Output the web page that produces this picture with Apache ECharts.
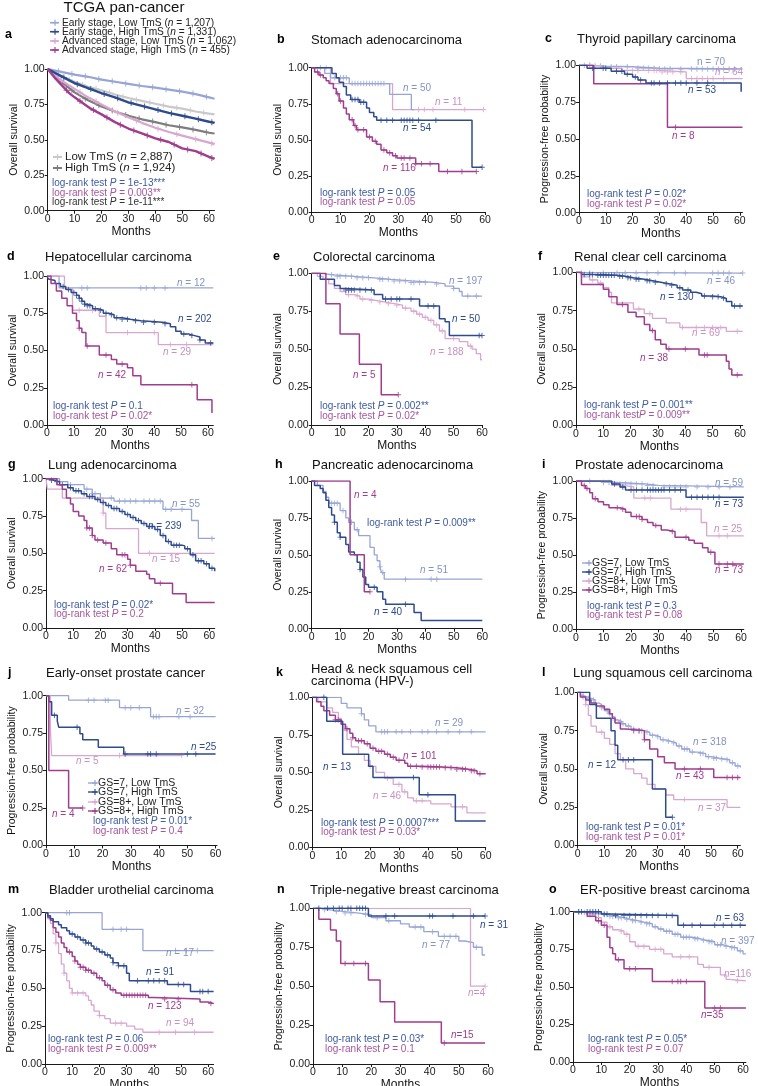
<!DOCTYPE html>
<html><head><meta charset="utf-8">
<script src="https://cdn.jsdelivr.net/npm/echarts@6/dist/echarts.min.js"></script>
<style>html,body{margin:0;padding:0;background:#fff}#c{width:758px;height:1086px}</style>
</head><body><div id="c"></div>
<script>
// ---------- tick labels ----------
const xTicks = [0, 10, 20, 30, 40, 50, 60];
const yTicks = [0, 0.25, 0.5, 0.75, 1];

// ---------- a: TCGA pan-cancer (smooth population curves) ----------
const aEL = [[0,1],[5,0.98],[10,0.96],[15,0.945],[20,0.925],[25,0.91],[30,0.895],[35,0.88],[40,0.868],[45,0.855],[50,0.84],[55,0.823],[60,0.80],[62,0.79]];
const aEH = [[0,1],[5,0.95],[10,0.90],[15,0.865],[20,0.83],[25,0.80],[30,0.765],[35,0.74],[40,0.715],[45,0.69],[50,0.67],[55,0.65],[60,0.628],[62,0.62]];
const aAL = [[0,1],[5,0.92],[10,0.86],[15,0.80],[20,0.75],[25,0.70],[30,0.66],[35,0.62],[40,0.585],[45,0.555],[50,0.53],[55,0.505],[60,0.48],[62,0.47]];
const aAH = [[0,1],[3,0.93],[5,0.89],[8,0.83],[10,0.80],[13,0.76],[16,0.72],[20,0.68],[25,0.625],[30,0.58],[35,0.545],[40,0.51],[45,0.485],[50,0.44],[55,0.42],[60,0.38],[62,0.365]];
const aGL = [[0,1],[5,0.95],[10,0.91],[15,0.875],[20,0.85],[25,0.82],[30,0.795],[35,0.775],[40,0.755],[45,0.735],[50,0.72],[55,0.70],[60,0.685],[62,0.68]];
const aGH = [[0,1],[5,0.91],[10,0.835],[15,0.78],[20,0.735],[25,0.70],[30,0.67],[35,0.645],[40,0.625],[45,0.603],[50,0.588],[55,0.57],[60,0.55],[62,0.545]];
const aELc = [4,9,14,19,24,29,34,39,44,49,54,59];
const aEHc = [6,11,16,21,26,31,36,41,46,51,56,61];
const aALc = [5,12,18,26,33,41,48,55,61];
const aAHc = [7,12,17,22,27,32,37,42,47,52,57,61];
const aGLc = [3,8,13,18,23,28,33,38,43,48,53,58];
const aGHc = [4,9,14,19,24,29,34,39,44,49,54,59];

// ---------- b: Stomach adenocarcinoma ----------
const bLB = [[0,1],[4.5,0.96],[6.5,0.93],[13,0.89],[27,0.815],[34.5,0.71],[35.5,0.71]];
const bLBc = [3,8,10,11,12,14,15,16,17,18,19,20,21,22,23,24,25];
const bLP = [[0,1],[6.5,0.89],[28,0.71],[59.5,0.71]];
const bLPc = [5,37,39,42,53,59.5];
const bDB = [[0,1],[7,0.96],[8.5,0.93],[9.5,0.9],[11,0.87],[12,0.81],[13.5,0.78],[16.5,0.76],[19,0.72],[20,0.69],[21.5,0.66],[22.5,0.635],[55.5,0.31],[59,0.31]];
const bDBc = [14,15,16,17,18,24,26,28,31,32,33,34,35,37,43,59];
const bMG = [[0,1],[1,0.97],[2.5,0.95],[4,0.93],[5,0.91],[6,0.89],[7.5,0.855],[8.5,0.82],[9.5,0.77],[11,0.72],[12,0.68],[13,0.64],[14.5,0.6],[15.5,0.57],[19,0.52],[21,0.49],[22.5,0.47],[24,0.43],[26,0.41],[28,0.39],[29.5,0.375],[36,0.335],[44,0.28],[57,0.28]];
const bMGc = [2,3,9,10,14,15,16,18,20,22,25,27,29,31,32,34,36,38,41,47,52,57];

// ---------- c: Thyroid papillary carcinoma ----------
const cLB = [[0,1],[5,0.995],[10,0.99],[20,0.98],[30,0.975],[61,0.975]];
const cLBc = [2,4,6,8,12,14,18,22,24,26,28,30,32,34,38,42,44,46,48,50,52,54,56,58];
const cLP = [[0,1],[8,0.98],[16,0.965],[30,0.955],[40,0.91],[61,0.91]];
const cLPc = [4,10,14,20,22,26,28,29,31,33,35,38,42,44,46,48,50,54];
const cMG = [[0,1],[5.5,0.875],[33,0.58],[61,0.58]];
const cMGc = [36];
const cDB = [[0,1],[3,0.98],[12,0.96],[17,0.94],[20,0.92],[22,0.9],[25,0.88],[60.5,0.82]];
const cDBc = [5,9,10,14,16,18,21,23,27,28,30,33,36,38,40,44,48];

// ---------- d: Hepatocellular carcinoma ----------
const dLB = [[0,1],[4.5,0.92],[62,0.92]];
const dLBc = [13,15,35,37,40,44];
const dLP = [[0,1],[6.5,0.92],[9.5,0.77],[19.5,0.73],[22,0.62],[41.5,0.54],[62,0.54]];
const dLPc = [12,17,30,40,46,52];
const dDB = [[0,1],[0.5,0.98],[1,0.97],[3,0.95],[5,0.93],[7,0.91],[9,0.89],[11,0.87],[12,0.85],[13,0.83],[14,0.81],[15,0.80],[17,0.78],[19,0.77],[21,0.75],[23,0.74],[25,0.72],[28,0.71],[31,0.70],[35,0.69],[43,0.68],[46,0.66],[48,0.63],[50,0.61],[53,0.6],[55,0.59],[57,0.57],[59,0.55],[62,0.55]];
const dDBc = [6,8,10,11,12,13,14,15,16,18,20,22,24,26,28,30,33,36,40,44,51,54,57,61];
const dMG = [[0,1],[1.5,0.95],[3.5,0.9],[5.5,0.85],[7.5,0.8],[9.5,0.75],[11,0.7],[12,0.65],[13,0.62],[14.5,0.53],[19.5,0.47],[24,0.44],[26,0.41],[30,0.385],[32,0.33],[35,0.27],[56,0.17],[61.5,0.08]];
const dMGc = [12,15,22,28,54];

// ---------- e: Colorectal carcinoma ----------
const eLB = [[0,1],[3,0.99],[8,0.98],[15,0.97],[22,0.96],[28,0.95],[35,0.94],[43,0.93],[47,0.915],[50,0.90],[52,0.88],[53,0.85],[60,0.85]];
const eLBc = [7,9,10,12,14,16,18,20,24,25,27,29,31,33,35,36,38,40,44,50,55,58];
const eDB = [[0,1],[3,0.96],[8,0.92],[10,0.90],[12,0.89],[22,0.86],[25,0.83],[38,0.785],[45,0.70],[47,0.68],[48.5,0.59],[60,0.59]];
const eDBc = [12,13,14,15,17,19,21,26,28,30,31,35,41,43,59,60];
const eLP = [[0,1],[2,0.98],[4,0.96],[6,0.93],[8,0.9],[10,0.88],[12,0.86],[15,0.85],[17,0.83],[20,0.82],[23,0.81],[26,0.80],[29,0.79],[32,0.77],[35,0.75],[37,0.73],[39,0.71],[41,0.69],[43,0.66],[45,0.62],[47,0.57],[52,0.55],[55,0.52],[56.5,0.5],[58,0.47],[59.5,0.43],[60,0.43]];
const eLPc = [13,16,18,21,24,27,30,33,36,38,40,42,44,46,50,56];
const eMG = [[0,1],[5,0.8],[10,0.6],[16.8,0.4],[24.5,0.2],[30.5,0.2]];
const eMGc = [30.5];

// ---------- f: Renal clear cell carcinoma ----------
const fLB = [[0,1],[1,0.995],[61,0.995]];
const fLBc = [2,5,10,15,18,22,26,30,36,40,50,52,54,56,61];
const fDB = [[0,1],[2,0.985],[8,0.98],[15,0.975],[18,0.965],[21,0.955],[25,0.945],[28,0.935],[31,0.925],[34,0.915],[37,0.9],[39,0.885],[42,0.87],[44,0.86],[46,0.845],[50,0.84],[53,0.83],[55,0.81],[57,0.78],[61,0.78]];
const fDBc = [3,5,6,8,9,10,11,12,13,14,16,17,19,20,22,23,26,27,29,33,35,38,41,47,50,52,54,58,60];
const fLP = [[0,1],[2,0.97],[5,0.95],[8,0.93],[10,0.90],[12,0.87],[13,0.8],[21,0.76],[25,0.73],[28,0.70],[33,0.67],[38,0.64],[55,0.615],[61,0.615]];
const fLPc = [6,9,23,27,39,44,47,50,53,59];
const fMG = [[0,1],[2,0.92],[10,0.89],[12,0.84],[15,0.79],[19,0.74],[22,0.71],[25,0.66],[27,0.62],[29,0.56],[31,0.53],[33,0.5],[45,0.46],[55,0.42],[56,0.37],[57,0.33],[61,0.33]];
const fMGc = [17,28,34,40,47,48,59];

// ---------- g: Lung adenocarcinoma ----------
const gLB = [[0,1],[5,0.98],[8,0.96],[14,0.93],[17,0.90],[20,0.87],[25,0.85],[43,0.795],[53.5,0.72],[56,0.6],[62,0.6]];
const gLBc = [9,15,17,18,20,24,27,29,31,33,36,38,40,42,44,46,50,61];
const gDB = [[0,1],[1,0.99],[3,0.98],[5,0.96],[8,0.94],[10,0.92],[13,0.90],[15,0.88],[18,0.86],[20,0.84],[22,0.82],[24,0.80],[27,0.78],[29,0.76],[31,0.74],[33,0.72],[35,0.70],[37,0.68],[40,0.66],[42,0.62],[44,0.58],[46,0.555],[50,0.55],[51,0.53],[53,0.49],[55,0.45],[58,0.43],[60,0.40],[62,0.38]];
const gDBc = [2,4,6,9,11,12,14,16,17,19,21,23,25,26,28,30,32,34,36,38,39,41,43,45,47,48,49,52,54,56,57,59,61];
const gLP = [[0,1],[0.5,0.93],[6,0.87],[21,0.77],[22,0.665],[34,0.5],[62,0.5]];
const gLPc = [21,38];
const gMG = [[0,1],[4,0.96],[6,0.93],[7.5,0.87],[9,0.83],[10,0.78],[12,0.75],[14,0.72],[15,0.67],[17,0.62],[18,0.59],[21,0.57],[24,0.53],[26,0.49],[30,0.46],[31,0.42],[33,0.38],[37,0.36],[38,0.33],[40,0.30],[46.5,0.23],[51.5,0.17],[62,0.17]];
const gMGc = [15,16,17,19,22,28,29,31,42];

// ---------- h: Pancreatic adenocarcinoma ----------
const hLB = [[0,1],[2,0.97],[4,0.93],[5,0.89],[6,0.85],[10,0.8],[12,0.75],[13,0.72],[15,0.67],[16.5,0.63],[20.5,0.55],[22,0.5],[23,0.46],[24,0.42],[24.5,0.38],[25.5,0.335],[60,0.335]];
const hLBc = [7,8,9,11,14,16,24,25,33,42,44];
const hMG = [[0,1],[13.5,0.5],[18.5,0.25],[20.5,0.25]];
const hMGc = [20.5];
const hDB = [[0,1],[1,0.97],[3,0.95],[4,0.92],[5,0.87],[6,0.82],[7,0.77],[8,0.72],[9,0.65],[10,0.62],[12,0.57],[13,0.52],[15,0.5],[16,0.45],[17,0.4],[18,0.35],[19,0.3],[20,0.28],[23,0.25],[25,0.2],[26,0.165],[36,0.11],[38.5,0.055],[60,0.055]];
const hDBc = [8,10,17,22,33];

// ---------- i: Prostate adenocarcinoma ----------
const iLB = [[0,1],[8,0.99],[15,0.98],[25,0.97],[30,0.96],[61,0.96]];
const iLBc = [5,10,12,16,18,20,22,24,26,28,32,34,36,38,40,44,48,52,56];
const iDB = [[0,1],[13,0.98],[16,0.96],[18,0.94],[40,0.89],[61,0.89]];
const iDBc = [14,17,20,22,24,26,27,28,29,30,31,32,34,36,38,42,44,46,48,50,52];
const iLP = [[0,1],[13,0.97],[17,0.96],[21,0.885],[34.5,0.81],[45.5,0.72],[47.5,0.63],[61,0.63]];
const iLPc = [16,25,27,38,40,52,55];
const iMG = [[0,1],[2,0.97],[3.5,0.95],[5,0.92],[6,0.88],[8,0.86],[10,0.84],[12,0.82],[16,0.81],[18,0.79],[20,0.76],[24,0.74],[26,0.72],[28,0.70],[31,0.67],[33,0.66],[36,0.62],[41,0.60],[43,0.58],[46,0.55],[48,0.52],[50.5,0.44],[61,0.44]];
const iMGc = [3,4,7,15,17,22,23,24,29,35,40,49,52,55,57];

// ---------- j: Early-onset prostate cancer ----------
const jLB = [[0,1],[8,0.97],[26,0.92],[37,0.86],[60,0.86]];
const jLBc = [15,17,21,22,28,30,33,38,39,40,47,51];
const jDB = [[0,1],[1,0.96],[2,0.87],[4,0.83],[4.5,0.79],[12,0.745],[13,0.705],[18.5,0.655],[27.5,0.61],[60,0.61]];
const jDBc = [3,11,28,36,37,39,50,53];
const jLP = [[0,1],[1.5,0.8],[2,0.6],[48,0.6]];
const jLPc = [26,48];
const jMG = [[0,1],[1,0.5],[8,0.25],[13,0.25]];
const jMGc = [13];

// ---------- k: Head & neck squamous cell carcinoma (HPV-) ----------
const kLB = [[0,1],[10,0.96],[12,0.93],[17,0.89],[18,0.85],[19.5,0.81],[22,0.77],[60,0.77]];
const kLBc = [17,24,25,26,29,31,34,38,40,43,47,51,55];
const kDB = [[0,1],[5,0.84],[10.5,0.62],[19.5,0.54],[21,0.465],[37,0.35],[49.5,0.175],[60,0.175]];
const kDBc = [4,35,40];
const kMG = [[0,1],[1.5,0.97],[3,0.94],[4,0.91],[6,0.88],[8,0.85],[10,0.82],[11.5,0.79],[13,0.76],[14,0.73],[15,0.71],[18,0.69],[20,0.66],[22,0.64],[25,0.62],[27,0.60],[29,0.58],[32,0.56],[33,0.54],[38,0.535],[45,0.53],[50,0.52],[54,0.51],[57,0.49],[60,0.49]];
const kMGc = [8,9,12,14,16,17,19,21,23,24,26,28,30,34,36,38,40,41,42,43,44,46,48,50,52,53,55,56,58];
const kLP = [[0,1],[2,0.97],[5,0.93],[7,0.9],[9,0.86],[10,0.82],[11,0.78],[12,0.72],[13.5,0.67],[16,0.62],[18,0.58],[20,0.54],[22,0.5],[25,0.46],[28,0.42],[31,0.37],[33,0.33],[35,0.31],[41,0.29],[48,0.27],[53.5,0.23],[60,0.23]];
const kLPc = [20,26,30,32,36,38,52];

// ---------- l: Lung squamous cell carcinoma ----------
const lLB = [[0,1],[1,0.98],[2,0.97],[3.5,0.96],[5,0.95],[6.5,0.93],[8,0.92],[9,0.90],[10,0.88],[11.5,0.86],[13,0.84],[14,0.82],[15,0.81],[16.5,0.795],[18,0.78],[20,0.76],[22,0.75],[25,0.74],[27,0.72],[29,0.71],[31,0.69],[33,0.68],[35,0.67],[37,0.65],[39,0.63],[42,0.61],[45,0.60],[48,0.58],[50,0.57],[53,0.565],[55,0.56],[57,0.54],[59,0.52],[61,0.51]];
const lLBc = [2,4,6,9,11,12,14,16,17,19,21,23,24,26,28,30,32,34,36,38,40,41,43,46,47,49,51,52,54,56,58,60];
const lDB = [[0,1],[4.5,0.92],[7,0.83],[12.5,0.75],[14,0.655],[15,0.56],[28,0.37],[33,0.185],[35.5,0.185]];
const lDBc = [17,19,21,35.5];
const lMG = [[0,1],[1,0.97],[3,0.95],[5,0.93],[7,0.91],[10,0.89],[12,0.86],[13,0.83],[14,0.80],[16,0.76],[18,0.75],[25,0.69],[27,0.63],[30,0.58],[32.5,0.54],[36.5,0.5],[51,0.445],[61,0.445]];
const lMGc = [21,23,25,40,46,56,58,60];
const lLP = [[0,1],[2,0.97],[3,0.92],[4,0.85],[5,0.78],[7,0.74],[10,0.70],[12,0.66],[14,0.60],[16,0.56],[18,0.5],[21,0.47],[24,0.44],[26,0.40],[29,0.37],[33,0.33],[36,0.30],[56,0.25],[61,0.25]];
const lLPc = [3,9,40];

// ---------- m: Bladder urothelial carcinoma ----------
const mLB = [[0,1],[21,0.89],[36,0.75],[62,0.75]];
const mLBc = [8,9,25,28,30,48,52,56];
const mDB = [[0,1],[1,0.98],[2,0.96],[3,0.94],[5,0.92],[6,0.90],[8,0.88],[9,0.86],[11,0.84],[13,0.82],[15,0.80],[17,0.78],[18,0.76],[20,0.74],[22,0.72],[24,0.70],[25,0.67],[27,0.65],[30,0.6],[31,0.55],[45,0.525],[53.5,0.48],[62,0.48]];
const mDBc = [10,12,14,15,16,19,21,23,25,27,29,34,38,40,42,44,49,51,57,58,60];
const mMG = [[0,1],[1,0.97],[2,0.95],[3,0.90],[4,0.87],[5,0.84],[6,0.80],[7,0.77],[8,0.74],[10,0.71],[11,0.68],[12,0.66],[13,0.64],[15,0.62],[17,0.60],[19,0.57],[21,0.55],[22,0.52],[24,0.49],[26,0.47],[28,0.455],[38,0.44],[40,0.43],[57,0.41],[60,0.40],[62,0.40]];
const mMGc = [9,11,13,14,15,16,18,20,23,25,29,30,31,32,33,34,35,36,37,44,49,61];
const mLP = [[0,1],[1,0.96],[2,0.93],[3,0.86],[4,0.80],[5,0.73],[6,0.66],[7,0.60],[8,0.55],[9,0.50],[10,0.47],[15,0.45],[16,0.42],[17,0.39],[18,0.35],[20,0.32],[22,0.30],[24,0.27],[30,0.25],[33,0.23],[36,0.21],[62,0.21]];
const mLPc = [4,7,10,12,14,20,26,28,42,48,55];

// ---------- n: Triple-negative breast carcinoma ----------
const nDB = [[0,1],[19,0.95],[59,0.95]];
const nDBc = [2,5,7,9,10,12,13,15,16,17,18,25,28,40,41,48,55,59];
const nLP = [[0,1],[54,0.5],[59,0.5]];
const nLPc = [59];
const nLB = [[0,1],[3,0.99],[6,0.98],[10,0.97],[15,0.96],[20,0.94],[25,0.92],[30,0.90],[33,0.88],[38,0.85],[43,0.82],[50,0.79],[52,0.78],[55,0.75],[58,0.70],[59,0.70]];
const nLBc = [4,8,11,13,18,22,26,35,37,41,45,47,49,56];
const nMG = [[0,1],[2,0.93],[6,0.86],[8,0.79],[9.5,0.645],[19,0.54],[23,0.40],[28,0.27],[44,0.135],[59,0.135]];
const nMGc = [11,14,18,45];

// ---------- o: ER-positive breast carcinoma ----------
const oDB = [[0,1],[10,0.985],[13,0.975],[37,0.91],[61,0.91]];
const oDBc = [2,3,5,6,7,8,9,11,12,15,18,20,22,24,26,28,30,33,35,39,42,45,50,53,56,59];
const oLB = [[0,1],[3,0.995],[5,0.99],[8,0.985],[10,0.98],[12,0.97],[15,0.96],[18,0.95],[20,0.94],[23,0.93],[25,0.92],[28,0.90],[30,0.885],[32,0.87],[35,0.85],[38,0.83],[42,0.82],[45,0.81],[47,0.80],[50,0.78],[53,0.77],[55,0.76],[58,0.74],[60,0.72],[61,0.72]];
const oLBc = [2,4,6,7,9,11,13,14,16,17,19,21,22,24,26,27,29,31,33,34,36,37,39,40,41,43,44,46,48,49,51,52,54,56,57,59];
const oLP = [[0,1],[3,0.99],[5,0.98],[8,0.96],[10,0.93],[12,0.90],[14,0.88],[16,0.87],[18,0.85],[20,0.80],[22,0.77],[27,0.75],[32,0.72],[35,0.70],[44,0.65],[46,0.63],[52,0.58],[54,0.55],[55,0.54],[61,0.54]];
const oLPc = [6,9,13,17,19,23,25,29,31,38,41,48,58];
const oMG = [[0,1],[5,0.97],[8,0.94],[10,0.91],[12,0.83],[13,0.76],[14,0.72],[15,0.68],[18,0.62],[28,0.535],[46.5,0.36],[61,0.36]];
const oMGc = [9,11,16,20,22,35,37,38,40,50,52];

// ---------- styles ----------
const FF = '"Liberation Sans", Arial, Helvetica, sans-serif';
const C = {LB:'#97a5d5', DB:'#2e4b8e', LP:'#d8a7d0', MG:'#a03d8f', GL:'#c9c9c9', GH:'#7d7d7d'};
const T = {LB:'#8493c6', DB:'#2e4b8e', LP:'#c892c0', MG:'#a03d8f', BL:'#3d5ba0', PK:'#a6569f', GR:'#333333'};
const OS = 'Overall survival', PF = 'Progression-free probability';

function cv(data, cens, col, w){ return {data, cens, col, w: w || 1.3}; }

const panels = [
 {g:[47.7,69,166.8,141.7], xmax:62, yn:OS, smooth:true, curves:[
   cv(aGL,aGLc,C.GL,2.2), cv(aGH,aGHc,C.GH,2.2), cv(aEL,aELc,C.LB,2.2), cv(aAL,aALc,C.LP,2.2), cv(aEH,aEHc,C.DB,2.4), cv(aAH,aAHc,C.MG,2.4)]},
 {g:[311.7,67.7,173.3,144.3], xmax:60, yn:OS, curves:[cv(bLP,bLPc,C.LP),cv(bLB,bLBc,C.LB),cv(bDB,bDBc,C.DB,1.5),cv(bMG,bMGc,C.MG,1.5)]},
 {g:[579,65.3,163.5,147.4], xmax:61, yn:PF, curves:[cv(cLB,cLBc,C.LB),cv(cLP,cLPc,C.LP),cv(cMG,cMGc,C.MG,1.5),cv(cDB,cDBc,C.DB,1.5)]},
 {g:[47,276,166.3,149], xmax:62, yn:OS, curves:[cv(dLB,dLBc,C.LB),cv(dLP,dLPc,C.LP),cv(dDB,dDBc,C.DB,1.5),cv(dMG,dMGc,C.MG,1.5)]},
 {g:[311.7,273.3,170.3,151.7], xmax:60, yn:OS, curves:[cv(eLB,eLBc,C.LB),cv(eLP,eLPc,C.LP),cv(eDB,eDBc,C.DB,1.5),cv(eMG,eMGc,C.MG,1.5)]},
 {g:[576,272.3,166.7,153.3], xmax:61, yn:OS, curves:[cv(fLB,fLBc,C.LB),cv(fLP,fLPc,C.LP),cv(fDB,fDBc,C.DB,1.5),cv(fMG,fMGc,C.MG,1.5)]},
 {g:[46,478.7,168.7,149.3], xmax:62, yn:OS, curves:[cv(gLB,gLBc,C.LB),cv(gLP,gLPc,C.LP),cv(gDB,gDBc,C.DB,1.5),cv(gMG,gMGc,C.MG,1.5)]},
 {g:[311.7,481,170.6,147.7], xmax:60, yn:OS, curves:[cv(hLB,hLBc,C.LB),cv(hDB,hDBc,C.DB,1.5),cv(hMG,hMGc,C.MG,1.5)]},
 {g:[576,481,167.8,148.3], xmax:61, yn:PF, curves:[cv(iLB,iLBc,C.LB),cv(iLP,iLPc,C.LP),cv(iDB,iDBc,C.DB,1.5),cv(iMG,iMGc,C.MG,1.5)]},
 {g:[46,695.7,171,149.7], xmax:60.5, yn:PF, curves:[cv(jLB,jLBc,C.LB),cv(jLP,jLPc,C.LP),cv(jDB,jDBc,C.DB,1.5),cv(jMG,jMGc,C.MG,1.5)]},
 {g:[312.3,697.3,173.4,150], xmax:60, yn:OS, curves:[cv(kLB,kLBc,C.LB),cv(kLP,kLPc,C.LP),cv(kMG,kMGc,C.MG,1.5),cv(kDB,kDBc,C.DB,1.5)]},
 {g:[577.7,692.3,162.7,153.3], xmax:61, yn:OS, curves:[cv(lLP,lLPc,C.LP),cv(lLB,lLBc,C.LB),cv(lMG,lMGc,C.MG,1.5),cv(lDB,lDBc,C.DB,1.5)]},
 {g:[45,912.7,168.6,151.3], xmax:62, yn:PF, curves:[cv(mLB,mLBc,C.LB),cv(mLP,mLPc,C.LP),cv(mMG,mMGc,C.MG,1.5),cv(mDB,mDBc,C.DB,1.5)]},
 {g:[313,908.3,175,155.7], xmax:60, yn:PF, curves:[cv(nLP,nLPc,C.LP),cv(nLB,nLBc,C.LB),cv(nMG,nMGc,C.MG,1.5),cv(nDB,nDBc,C.DB,1.5)]},
 {g:[573,911.7,172.9,150.3], xmax:61, yn:PF, curves:[cv(oLB,oLBc,C.LB),cv(oLP,oLPc,C.LP),cv(oMG,oMGc,C.MG,1.5),cv(oDB,oDBc,C.DB,1.5)]}
];

function stepAt(pts, t){ let s = pts[0][1]; for (const p of pts){ if (p[0] <= t) s = p[1]; else break; } return s; }
function linAt(pts, t){
  for (let i = 1; i < pts.length; i++){
    if (pts[i][0] >= t){ const a = pts[i-1], b = pts[i]; return a[1] + (b[1]-a[1]) * (t-a[0]) / (b[0]-a[0]); }
  }
  return pts[pts.length-1][1];
}
const PLUS = 'path://M0,4.1H10V5.9H0Z M4.1,0H5.9V10H4.1Z';

const grids = [], xAxes = [], yAxes = [], series = [];
panels.forEach((p, i) => {
  grids.push({left:p.g[0], top:p.g[1], width:p.g[2], height:p.g[3], outerBoundsMode:'none', containLabel:false});
  xAxes.push({gridIndex:i, type:'value', min:0, max:p.xmax,
    axisLine:{show:true, onZero:false, lineStyle:{color:'#1a1a1a', width:1}},
    axisTick:{show:true, length:3, customValues:xTicks, lineStyle:{color:'#1a1a1a'}},
    axisLabel:{customValues:xTicks, fontSize:10.5, color:'#1a1a1a', margin:3, fontFamily:FF},
    splitLine:{show:false}, name:'Months', nameLocation:'middle', nameGap:12,
    nameTextStyle:{fontSize:12, color:'#111', fontFamily:FF}});
  yAxes.push({gridIndex:i, type:'value', min:0, max:1, interval:0.25,
    axisLine:{show:true, onZero:false, lineStyle:{color:'#1a1a1a', width:1}},
    axisTick:{show:true, length:3, lineStyle:{color:'#1a1a1a'}},
    axisLabel:{fontSize:10.5, color:'#1a1a1a', margin:3, fontFamily:FF, formatter:v => v.toFixed(2)},
    splitLine:{show:false}, name:p.yn, nameLocation:'middle', nameGap:28,
    nameTextStyle:{fontSize:10.5, color:'#111', fontFamily:FF}});
  p.curves.forEach((c, k) => {
    series.push({type:'line', xAxisIndex:i, yAxisIndex:i, data:c.data, step:p.smooth ? false : 'end',
      showSymbol:false, symbol:'none', silent:true, z:2+k, lineStyle:{color:c.col, width:c.w}});
    series.push({type:'scatter', xAxisIndex:i, yAxisIndex:i, silent:true, z:2+k,
      data:c.cens.map(t => [t, p.smooth ? linAt(c.data, t) : stepAt(c.data, t)]),
      symbol:PLUS, symbolSize:p.smooth ? 6 : 5.5, itemStyle:{color:c.col}});
  });
});

// ---------- annotations ----------
function txt(x, y, s, color, size, opt){
  opt = opt || {};
  return {type:'text', x, y, silent:true, z:100, style:{text:s, fill:color, fontSize:size, fontFamily:FF,
    fontWeight:opt.bold ? 'bold' : 'normal', align:opt.align || 'left', verticalAlign:'middle',
    rich:{i:{fontStyle:'italic', fill:color, fontSize:size, fontFamily:FF}}}};
}
function sym(x1, x2, xm, y, color, lw){
  return [
    {type:'line', silent:true, z:100, shape:{x1, y1:y, x2, y2:y}, style:{stroke:color, lineWidth:lw || 1.4}},
    {type:'line', silent:true, z:100, shape:{x1:xm, y1:y-3, x2:xm, y2:y+3}, style:{stroke:color, lineWidth:1.2}},
    {type:'line', silent:true, z:100, shape:{x1:xm-3, y1:y, x2:xm+3, y2:y}, style:{stroke:color, lineWidth:1.2}}
  ];
}
const LR = '{i|P} = ';
const titles = [
  ['a',5,35,'TCGA pan-cancer',124,8,'center'],
  ['b',277,40,'Stomach adenocarcinoma',311,40],
  ['c',545,39,'Thyroid papillary carcinoma',577,39],
  ['d',7,257,'Hepatocellular carcinoma',45,257],
  ['e',273,257,'Colorectal carcinoma',313,257],
  ['f',538,257,'Renal clear cell carcinoma',574,257],
  ['g',8,465,'Lung adenocarcinoma',48,465],
  ['h',275,465,'Pancreatic adenocarcinoma',312,465],
  ['i',542,465,'Prostate adenocarcinoma',575,465],
  ['j',8,673,'Early-onset prostate cancer',46,673],
  ['k',276,673,'Head & neck squamous cell',311,669],
  ['l',542,673,'Lung squamous cell carcinoma',573,673],
  ['m',8,890,'Bladder urothelial carcinoma',49,890],
  ['n',277,890,'Triple-negative breast carcinoma',310,890],
  ['o',549,890,'ER-positive breast carcinoma',580,890]
];
const G = [];
titles.forEach(t => {
  G.push(txt(t[1], t[2], t[0], '#000', 12.5, {bold:true}));
  G.push(txt(t[4], t[5], t[3], '#111', t[0] === 'a' ? 15 : 13, {align:t[6] || 'left'}));
});
G.push(txt(311, 681, 'carcinoma (HPV-)', '#111', 13));

// panel a legends
const aLeg = [['Early stage, Low TmS ({i|n} = 1,207)',C.LB,22.7],['Early stage, High TmS ({i|n} = 1,331)',C.DB,31.7],
  ['Advanced stage, Low TmS ({i|n} = 1,062)',C.LP,41],['Advanced stage, High TmS ({i|n} = 455)',C.MG,50]];
aLeg.forEach(l => { G.push(...sym(50, 59, 55, l[2], l[1], 1.6)); G.push(txt(62, l[2], l[0], '#222', 10.2)); });
G.push(...sym(53, 62, 57.5, 157, C.GL, 2)); G.push(txt(65, 157, 'Low TmS ({i|n} = 2,887)', '#222', 11.5));
G.push(...sym(53, 62, 57.5, 168, C.GH, 2)); G.push(txt(65, 168, 'High TmS ({i|n} = 1,924)', '#222', 11.5));

// GS legends (i, j)
const gsLeg = [['GS=7, Low TmS',C.LB],['GS=7, High TmS',C.DB],['GS=8+, Low TmS',C.LP],['GS=8+, High TmS',C.MG]];
[[592,[563,572,581,590]],[98,[783,792,802,811]]].forEach(L => {
  gsLeg.forEach((g, k) => { G.push(...sym(L[0]-10, L[0]-1, L[0]-3, L[1][k], g[1], 1.4)); G.push(txt(L[0], L[1][k], g[0], '#222', 10.5)); });
});

// n labels: [x, y, text, colour key]
const nLabs = [
  [403,88,'{i|n} = 50','LB'],[435,102,'{i|n} = 11','LP'],[403,128,'{i|n} = 54','DB'],[383,168,'{i|n} = 116','MG'],
  [697,62,'n = 70','LB'],[715,72,'{i|n} = 64','LP'],[688,90,'{i|n} = 53','DB'],[672,136,'{i|n} = 8','MG'],
  [177,283,'{i|n} = 12','LB'],[178,319,'{i|n} = 202','DB'],[163,352,'{i|n} = 29','LP'],[98,375,'{i|n} = 42','MG'],
  [449,281,'{i|n} = 197','LB'],[452,319,'{i|n} = 50','DB'],[430,352,'{i|n} = 188','LP'],[353,375,'{i|n} = 5','MG'],
  [707,281,'{i|n} = 46','LB'],[660,297,'{i|n} = 130','DB'],[692,333,'{i|n} = 69','LP'],[640,358,'{i|n} = 38','MG'],
  [172,504,'{i|n} = 55','LB'],[148,526,'{i|n} = 239','DB'],[152,559,'{i|n} = 15','LP'],[99,569,'{i|n} = 62','MG'],
  [354,495,'{i|n} = 4','MG'],[420,570,'{i|n} = 51','LB'],[374,612,'{i|n} = 40','DB'],
  [715,483,'{i|n} = 59','LB'],[715,504,'{i|n} = 73','DB'],[714,529,'{i|n} = 25','LP'],[715,570,'{i|n} = 73','MG'],
  [176,711,'{i|n} = 32','LB'],[191,747,'{i|n} =25','DB'],[76,761,'{i|n} = 5','LP'],[52,814,'{i|n} = 4','MG'],
  [435,723,'{i|n} = 29','LB'],[403,756,'{i|n} = 101','MG'],[323,767,'{i|n} = 13','DB'],[373,796,'{i|n} = 46','LP'],
  [693,742,'{i|n} = 318','LB'],[588,765,'{i|n} = 12','DB'],[676,776,'{i|n} = 43','MG'],[698,808,'{i|n} = 37','LP'],
  [166,953,'{i|n} = 17','LB'],[146,972,'{i|n} = 91','DB'],[148,1006,'{i|n} = 123','MG'],[166,1023,'{i|n} = 94','LP'],
  [480,925,'{i|n} = 31','DB'],[422,945,'{i|n} = 77','LB'],[468,993,'{i|n}=4','LP'],[451,1035,'{i|n}=15','MG'],
  [716,918,'{i|n} = 63','DB'],[721,941,'{i|n} = 397','LB'],[724,974,'{i|n}=116','LP'],[701,1015,'{i|n}=35','MG']
];
nLabs.forEach(l => G.push(txt(l[0], l[1], l[2], T[l[3]], 10)));

// log-rank test annotations: [x, y, p-value text, colour key]
const lrLabs = [
  [52,183,'1e-13***','BL'],[52,193,'0.003**','PK'],[52,202,'1e-11***','GR'],
  [320,193,'0.05','BL'],[320,202,'0.05','PK'],
  [587,194,'0.02*','BL'],[587,204,'0.02*','PK'],
  [53,406,'0.1','BL'],[53,416,'0.02*','PK'],
  [320,406,'0.002**','BL'],[320,416,'0.02*','PK'],
  [584,405,'0.001**','BL'],
  [54,605,'0.02*','BL'],[54,614,'0.2','PK'],
  [367,523,'0.009**','BL'],
  [587,606,'0.3','BL'],[587,615,'0.08','PK'],
  [93,821,'0.01*','BL'],[93,831,'0.4','PK'],
  [321,823,'0.0007***','BL'],[321,832,'0.03*','PK'],
  [586,827,'0.01*','BL'],[586,837,'0.01*','PK'],
  [48,1039,'0.06','BL'],[48,1049,'0.009**','PK'],
  [325,1039,'0.03*','BL'],[325,1049,'0.1','PK'],
  [588,1039,'0.05*','BL'],[588,1049,'0.07','PK']
];
lrLabs.forEach(l => G.push(txt(l[0], l[1], 'log-rank test ' + LR + l[2], T[l[3]], 10)));
G.push(txt(584, 415, 'log-rank test{i|P} = 0.009**', T.PK, 10));

const chart = echarts.init(document.getElementById('c'), null, {renderer:'canvas'});
chart.setOption({
  animation:false, backgroundColor:'#fff',
  textStyle:{fontFamily:FF},
  grid:grids, xAxis:xAxes, yAxis:yAxes, series, graphic:G
});
</script></body></html>
